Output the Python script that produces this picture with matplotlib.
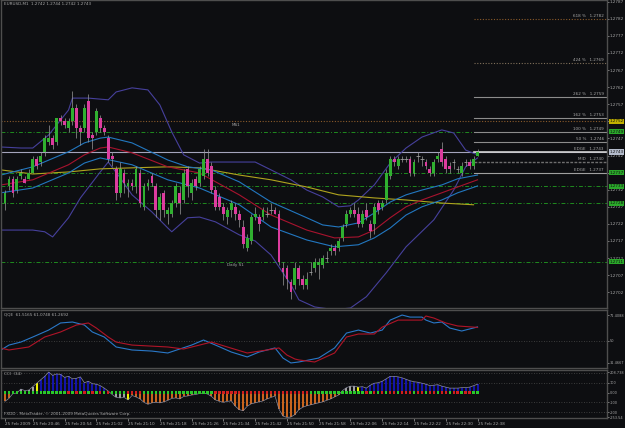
import numpy as np
import matplotlib.pyplot as plt
from matplotlib import font_manager
from matplotlib.transforms import blended_transform_factory

# EURUSD M1 candles, first bar = 25 Feb 20:39
opens = [1.2728, 1.2733, 1.2735, 1.2732, 1.2736, 1.2735, 1.2735, 1.2737, 1.2741, 1.2740,
         1.2743, 1.2746, 1.2747, 1.2746, 1.2753, 1.2752, 1.2750, 1.2752, 1.2756, 1.2750,
         1.2750, 1.2758, 1.2748, 1.2749, 1.2753, 1.2750, 1.2747, 1.2742, 1.2738, 1.2731,
         1.2737, 1.2733, 1.2734, 1.2733, 1.2737, 1.2727, 1.2733, 1.2736, 1.2733, 1.2726,
         1.2731, 1.2725, 1.2725, 1.2728, 1.2731, 1.2729, 1.2738, 1.2731, 1.2735, 1.2734,
         1.2736, 1.2741, 1.2739, 1.2732, 1.2730, 1.2727, 1.2724, 1.2726, 1.2727, 1.2725,
         1.2721, 1.2715, 1.2717, 1.2724, 1.2724, 1.2724, 1.2725, 1.2726, 1.2726, 1.2725,
         1.2709, 1.2709, 1.2705, 1.2704, 1.2709, 1.2706, 1.2704, 1.2708, 1.2709, 1.2710,
         1.2710, 1.2712, 1.2714, 1.2715, 1.2715, 1.2718, 1.2722, 1.2725, 1.2726, 1.2725,
         1.2722, 1.2726, 1.2722, 1.2722, 1.2728, 1.2727, 1.2729, 1.2736, 1.2741, 1.2739,
         1.2741, 1.2741, 1.2741, 1.2737, 1.2742, 1.2741, 1.2740, 1.2738, 1.2737, 1.2741,
         1.2744, 1.2741, 1.2739, 1.2740, 1.2738, 1.2737, 1.2740, 1.2740, 1.2739, 1.2742]
highs = [1.2732, 1.2736, 1.2736, 1.2736, 1.2738, 1.2736, 1.2738, 1.2742, 1.2742, 1.2743,
         1.2748, 1.2751, 1.2748, 1.2753, 1.2754, 1.2753, 1.2753, 1.2761, 1.2757, 1.2751,
         1.2757, 1.2760, 1.2749, 1.2756, 1.2754, 1.2751, 1.2748, 1.2743, 1.2739, 1.2740,
         1.2738, 1.2735, 1.2735, 1.2739, 1.2738, 1.2734, 1.2735, 1.2737, 1.2734, 1.2731,
         1.2732, 1.2727, 1.2729, 1.2734, 1.2733, 1.2738, 1.2739, 1.2735, 1.2736, 1.2739,
         1.2744, 1.2744, 1.2740, 1.2733, 1.2731, 1.2728, 1.2727, 1.2729, 1.2728, 1.2726,
         1.2723, 1.2719, 1.2725, 1.2727, 1.2725, 1.2727, 1.2727, 1.2728, 1.2727, 1.2726,
         1.2711, 1.2710, 1.2706, 1.2711, 1.2710, 1.2707, 1.2708, 1.2711, 1.2712, 1.2712,
         1.2713, 1.2714, 1.2716, 1.2716, 1.2718, 1.2722, 1.2726, 1.2727, 1.2728, 1.2727,
         1.2726, 1.2728, 1.2723, 1.2728, 1.2729, 1.2729, 1.2738, 1.2742, 1.2742, 1.2742,
         1.2742, 1.2742, 1.2742, 1.2741, 1.2743, 1.2742, 1.2741, 1.2739, 1.2741, 1.2743,
         1.2746, 1.2742, 1.2740, 1.2741, 1.2739, 1.2740, 1.2741, 1.2741, 1.2742, 1.2744]
lows = [1.2726, 1.2732, 1.2730, 1.2731, 1.2735, 1.2734, 1.2735, 1.2737, 1.2738, 1.2739,
        1.2742, 1.2745, 1.2744, 1.2745, 1.2751, 1.2750, 1.2749, 1.2751, 1.2747, 1.2745,
        1.2749, 1.2746, 1.2744, 1.2748, 1.2749, 1.2748, 1.2740, 1.2739, 1.2729, 1.2730,
        1.2731, 1.2730, 1.2732, 1.2731, 1.2727, 1.2726, 1.2732, 1.2733, 1.2724, 1.2723,
        1.2724, 1.2722, 1.2724, 1.2727, 1.2725, 1.2728, 1.2730, 1.2729, 1.2732, 1.2733,
        1.2735, 1.2736, 1.2731, 1.2726, 1.2726, 1.2723, 1.2722, 1.2724, 1.2723, 1.2721,
        1.2715, 1.2714, 1.2716, 1.2723, 1.2720, 1.2723, 1.2724, 1.2725, 1.2725, 1.2710,
        1.2704, 1.2703, 1.2700, 1.2703, 1.2704, 1.2703, 1.2703, 1.2707, 1.2708, 1.2706,
        1.2709, 1.2711, 1.2713, 1.2713, 1.2714, 1.2717, 1.2721, 1.2724, 1.2724, 1.2721,
        1.2721, 1.2723, 1.2718, 1.2719, 1.2725, 1.2726, 1.2728, 1.2735, 1.2739, 1.2738,
        1.2740, 1.2740, 1.2736, 1.2736, 1.2740, 1.2739, 1.2738, 1.2736, 1.2736, 1.2740,
        1.2739, 1.2737, 1.2737, 1.2738, 1.2737, 1.2736, 1.2739, 1.2738, 1.2738, 1.2742]
closes = [1.2731, 1.2735, 1.2731, 1.2735, 1.2737, 1.2734, 1.2737, 1.2741, 1.2739, 1.2742,
          1.2747, 1.2747, 1.2745, 1.2753, 1.2752, 1.2751, 1.2752, 1.2756, 1.2750, 1.2749,
          1.2756, 1.2747, 1.2747, 1.2755, 1.2750, 1.2749, 1.2741, 1.2741, 1.2731, 1.2738,
          1.2734, 1.2734, 1.2733, 1.2738, 1.2728, 1.2733, 1.2734, 1.2734, 1.2726, 1.2730,
          1.2726, 1.2726, 1.2728, 1.2733, 1.2728, 1.2737, 1.2733, 1.2734, 1.2733, 1.2738,
          1.2741, 1.2737, 1.2732, 1.2727, 1.2727, 1.2725, 1.2726, 1.2728, 1.2725, 1.2723,
          1.2716, 1.2718, 1.2724, 1.2725, 1.2722, 1.2726, 1.2725, 1.2726, 1.2725, 1.2711,
          1.2708, 1.2706, 1.2702, 1.2709, 1.2706, 1.2704, 1.2706, 1.2708, 1.2711, 1.2711,
          1.2712, 1.2712, 1.2715, 1.2714, 1.2717, 1.2721, 1.2725, 1.2726, 1.2725, 1.2722,
          1.2725, 1.2724, 1.2720, 1.2727, 1.2726, 1.2728, 1.2737, 1.2741, 1.2740, 1.2741,
          1.2741, 1.2741, 1.2737, 1.2740, 1.2742, 1.2741, 1.2739, 1.2737, 1.2740, 1.2742,
          1.2740, 1.2738, 1.2738, 1.2740, 1.2738, 1.2739, 1.2740, 1.2739, 1.2741, 1.2743]

# moving average envelope (blue / red / blue) and long MA (yellow), read at bar positions
ma_hi_bars = [-1, 7, 16, 20, 24, 26, 32, 41, 46, 52, 59, 67, 76, 80, 84, 89, 93, 97, 101, 105, 110, 114, 119]
ma_hi = [1.27363, 1.27387, 1.27431, 1.27457, 1.27471, 1.27474, 1.27457, 1.27407, 1.27387, 1.27378,
         1.27343, 1.27284, 1.27238, 1.27217, 1.27211, 1.27223, 1.27252, 1.27284, 1.27305, 1.27319,
         1.27334, 1.27352, 1.27363]
ma_mid_bars = [-1, 7, 16, 20, 24, 26, 32, 41, 49, 59, 67, 76, 83, 89, 93, 97, 101, 105, 110, 114, 119]
ma_mid = [1.27334, 1.27349, 1.27393, 1.27422, 1.27442, 1.27445, 1.27428, 1.27387, 1.27369, 1.27305,
          1.27246, 1.27202, 1.27179, 1.27182, 1.27202, 1.27238, 1.27270, 1.27290, 1.27311, 1.27328,
          1.27349]
ma_lo_bars = [-1, 7, 16, 20, 24, 32, 41, 49, 59, 67, 76, 83, 89, 93, 97, 101, 105, 110, 114, 119]
ma_lo = [1.27311, 1.27325, 1.27369, 1.27398, 1.27413, 1.27393, 1.27349, 1.27325, 1.27276, 1.27211,
         1.27173, 1.27153, 1.27159, 1.27179, 1.27208, 1.27246, 1.27270, 1.27290, 1.27311, 1.27331]
ma_long_bars = [-1, 7, 16, 24, 32, 41, 49, 59, 67, 76, 84, 93, 101, 110, 118]
ma_long = [1.27378, 1.27366, 1.27372, 1.27381, 1.27384, 1.27387, 1.27384, 1.27363, 1.27349, 1.27328,
           1.27305, 1.27296, 1.27290, 1.27281, 1.27276]

# Bollinger bands
bb_up_bars = [-1, 4, 7, 11, 16, 17, 21, 26, 28, 32, 36, 39, 42, 45, 49, 52, 59, 63, 67, 72, 76, 80,
              84, 87, 89, 93, 97, 101, 105, 110, 113, 116, 119]
bb_up = [1.27445, 1.27442, 1.27442, 1.27480, 1.27553, 1.27588, 1.27588, 1.27583, 1.27606, 1.27618,
         1.27612, 1.27568, 1.27489, 1.27422, 1.27398, 1.27401, 1.27401, 1.27401, 1.27378, 1.27349,
         1.27319, 1.27299, 1.27270, 1.27273, 1.27290, 1.27334, 1.27398, 1.27442, 1.27474, 1.27495,
         1.27486, 1.27436, 1.27422]
bb_dn_bars = [-1, 7, 10, 12, 16, 19, 24, 26, 29, 32, 37, 41, 42, 46, 49, 53, 59, 63, 67, 72, 74, 78,
              83, 87, 91, 96, 101, 108, 113, 116, 119]
bb_dn = [1.27202, 1.27202, 1.27197, 1.27182, 1.27238, 1.27296, 1.27372, 1.27401, 1.27355, 1.27305,
         1.27255, 1.27208, 1.27197, 1.27238, 1.27240, 1.27226, 1.27188, 1.27170, 1.27129, 1.27042,
         1.26998, 1.26977, 1.26969, 1.26974, 1.27007, 1.27077, 1.27153, 1.27232, 1.27319, 1.27387,
         1.27413]

# horizontal levels
pivot_levels = [1.2749, 1.2737, 1.2733, 1.2728, 1.2711]
ms1 = 1.2752
bid = 1.2743
fib_names = ["618 %", "424 %", "262 %", "162 %", "100 %", "50 %", "EDGE", "MID", "EDGE"]
fib_prices = [1.2782, 1.2769, 1.2759, 1.2753, 1.2749, 1.2746, 1.2743, 1.2740, 1.2737]

# QQE
qqe_fast_bars = [-1, 1, 4, 7, 11, 14, 17, 20, 22, 25, 28, 32, 37, 41, 44, 47, 50, 53, 57, 61, 64,
                 68, 70, 72, 74, 79, 83, 86, 89, 92, 95, 97, 100, 102, 105, 106, 108, 110, 112,
                 115, 117, 119]
qqe_fast = [42.3, 46.4, 48.9, 53.1, 58.9, 64.8, 65.6, 63.1, 57.3, 53.1, 44.8, 42.3, 41.4, 39.8, 43.1,
            46.4, 50.6, 46.4, 40.6, 36.5, 40.6, 44.0, 35.6, 31.5, 32.3, 35.6, 44.0, 56.4, 58.9, 56.4,
            58.9, 67.2, 71.4, 69.7, 69.7, 67.2, 64.8, 65.6, 60.6, 58.1, 59.8, 61.5]
qqe_slow_bars = [-1, 1, 6, 10, 14, 18, 21, 23, 26, 28, 32, 41, 45, 49, 52, 56, 61, 66, 69, 71, 73,
                 74, 78, 83, 86, 89, 93, 95, 99, 102, 105, 106, 108, 111, 114, 119]
qqe_slow = [43.9, 42.3, 44.8, 53.1, 57.3, 63.1, 64.8, 60.6, 53.1, 48.9, 46.4, 44.8, 43.1, 46.4, 48.9,
            44.8, 39.8, 42.3, 44.0, 38.1, 34.8, 34.0, 32.3, 39.8, 53.1, 55.6, 55.6, 61.4, 67.2, 67.2,
            67.2, 70.6, 68.9, 64.8, 62.3, 61.1]

# CCI (34)
cci = [-90, -60, -10, -5, 35, 20, 25, 60, 95, 130,
       165, 208.7, 175, 190, 185, 155, 165, 140, 145, 160,
       100, 115, 90, 85, 70, 45, 15, -20, -50, -55,
       -50, -75, -30, -45, -65, -100, -120, -105, -100, -105,
       -95, -80, -60, -55, -65, -40, -35, -25, -20, -10,
       -5, -15, -40, -75, -90, -100, -90, -85, -140, -175,
       -185, -140, -115, -105, -95, -85, -65, -50, -35, -170,
       -240, -253.5, -250, -225, -175, -150, -135, -125, -115, -105,
       -95, -80, -65, -45, -25, 20, 50, 65, 65, 55,
       60, 45, 75, 95, 100, 115, 140, 165, 165, 160,
       150, 135, 120, 110, 105, 95, 85, 70, 75, 80,
       65, 55, 45, 45, 45, 50, 50, 55, 70, 85]
trend_up = ([1] * 16 + [0, 1, 0, 1, 0, 1, 0, 1, 0, 1, 0] + [1] * 4 + [0] * 4 + [1] * 18 + [0] * 24
            + [1] * 13 + [1, 0, 1, 0, 1, 0, 1, 0, 0, 1, 0, 0, 0, 1, 0, 0, 1, 0, 0, 1,
                          0, 0, 1, 0, 0, 1, 0, 0, 1, 1])

time_bars = [0, 7, 15, 23, 31, 39, 47, 55, 63, 71, 79, 87, 95, 103, 111, 119]
time_labels = ["25 Feb 2009", "25 Feb 20:46", "25 Feb 20:54", "25 Feb 21:02", "25 Feb 21:10",
               "25 Feb 21:18", "25 Feb 21:26", "25 Feb 21:34", "25 Feb 21:42", "25 Feb 21:50",
               "25 Feb 21:58", "25 Feb 22:06", "25 Feb 22:14", "25 Feb 22:22", "25 Feb 22:30",
               "25 Feb 22:38"]

# narrow font if there is one, like the terminal's bitmap font
names = {f.name for f in font_manager.fontManager.ttflist}
if "Liberation Sans Narrow" in names:
    plt.rcParams['font.family'] = ["Liberation Sans Narrow", "DejaVu Sans"]
    fs = 3.9
else:
    plt.rcParams['font.family'] = ["DejaVu Sans"]
    fs = 3.0

bg = "#0d0e11"
frame = "#4e4e4e"
txt = "#a8a8a8"

W, H = 625, 428


def rect(x0, y0, x1, y1):
    return [x0 / W, 1 - y1 / H, (x1 - x0) / W, (y1 - y0) / H]


fig = plt.figure(figsize=(6.25, 4.28), dpi=100, facecolor=bg)
ax = fig.add_axes(rect(1, 0, 607, 308))
axq = fig.add_axes(rect(1, 310, 607, 368))
axc = fig.add_axes(rect(1, 370, 607, 418))

for a in (ax, axq, axc):
    a.set_facecolor(bg)
    a.set_xlim(-1.0, 151.6)
    for s in a.spines.values():
        s.set_color(frame)
        s.set_linewidth(1.0)
    a.yaxis.tick_right()
    a.tick_params(axis='y', labelsize=fs, colors=txt, length=1.5, width=0.5, pad=0.6)
    a.tick_params(axis='x', labelsize=fs, colors=txt, length=2, width=0.5, pad=1.2)
# the 7-character scale labels of the sub-windows need a touch less room
axq.tick_params(axis='y', labelsize=fs * 0.85, pad=0.4)
axc.tick_params(axis='y', labelsize=fs * 0.85, pad=0.4)
ax.set_xticks([])
axq.set_xticks([])

# ---------------- main price chart ----------------
ax.set_ylim(1.26974, 1.27875)
ticks = np.round(np.arange(1.2702, 1.27875, 0.0005), 4)
ax.set_yticks(ticks)
ax.set_yticklabels([f"{t:.4f}" for t in ticks])

x = np.arange(len(opens))
o, h, l, c = map(np.array, (opens, highs, lows, closes))
up = c > o + 1e-7
dn = c < o - 1e-7
eq = ~(up | dn)

# levels
ax.axhline(ms1, color="#8a5a2a", lw=0.8, ls=(0, (1, 1.5)), zorder=1)
for lv in pivot_levels:
    ax.axhline(lv, color="#1f8a1f", lw=0.7, ls=(0, (4, 2, 1, 2)), zorder=1)
ax.axhline(bid, color="#a4a4bc", lw=0.8, zorder=1)

ax.plot(bb_up_bars, bb_up, color="#46409c", lw=0.8)
ax.plot(bb_dn_bars, bb_dn, color="#46409c", lw=0.8)
ax.plot(ma_long_bars, ma_long, color="#b0a41e", lw=0.8)
ax.plot(ma_hi_bars, ma_hi, color="#2277c0", lw=0.8)
ax.plot(ma_mid_bars, ma_mid, color="#a8132e", lw=0.8)
ax.plot(ma_lo_bars, ma_lo, color="#2277c0", lw=0.8)

ax.vlines(x, l, h, color="#9a9a9a", lw=0.5, zorder=3)
ax.bar(x[up], c[up] - o[up], bottom=o[up], width=0.7, color="#30b030", lw=0, zorder=4)
ax.bar(x[dn], o[dn] - c[dn], bottom=c[dn], width=0.7, color="#dc3c9e", lw=0, zorder=4)
ax.hlines(o[eq], x[eq] - 0.4, x[eq] + 0.4, color="#a0a0a0", lw=0.6, zorder=4)

# fibo / channel levels on the right
fib_style = [("#8a5a2a", (0, (1, 1.5)), 0.8), ("#80705a", (0, (1, 1.5)), 0.8),
             ("#8c8c8c", "-", 0.8), ("#8c8c8c", "-", 0.8), ("#8c8c8c", "-", 0.8),
             ("#8c8c8c", "-", 0.8), ("#d0d0d0", "-", 1.2), ("#6e6e6e", (0, (2, 1)), 1.0),
             ("#a0a0a0", "-", 0.8)]
tr = blended_transform_factory(ax.transAxes, ax.transData)
for name, p, (col, ls, lw) in zip(fib_names, fib_prices, fib_style):
    ax.plot([118, 151.6], [p, p], color=col, ls=ls, lw=lw, zorder=2)
    ax.text(0.995, p + 0.00003, f"{name}   {p:.4f}", transform=tr, ha='right', va='bottom',
            fontsize=fs, color=txt)

ax.text(57, ms1 - 0.00005, "MS1", fontsize=fs, color=txt, va='top')
ax.text(56, pivot_levels[-1] - 0.00005, "Daily S1", fontsize=fs, color=txt, va='top')
ax.text(0.005, 0.992, "EURUSD,M1  1.2742 1.2744 1.2742 1.2743", transform=ax.transAxes,
        fontsize=fs, color=txt, va='top')

# price boxes on the scale
boxes = [(ms1, "#c0b000"), (pivot_levels[0], "#2aa82a"), (bid, "#b4bccc"),
         (pivot_levels[1], "#2aa82a"), (pivot_levels[2], "#2aa82a"),
         (pivot_levels[3], "#2aa82a"), (pivot_levels[4], "#2aa82a")]
for p, col in boxes:
    ax.text(1.0 + 2.5 / 606, p, f"{p:.4f}", transform=tr, ha='left', va='center', fontsize=fs,
            color="#101010", zorder=6,
            bbox=dict(boxstyle="square,pad=0.15", fc=col, ec="none"))

# ---------------- QQE ----------------
axq.set_ylim(27.3, 75.6)
axq.set_yticks([31.4667, 50, 71.4088])
axq.set_yticklabels(["31.4667", "50", "71.4088"])
axq.axhline(50, color="#4a4a4a", lw=0.6, ls=(0, (1, 2)))
axq.plot(qqe_fast_bars, qqe_fast, color="#2a78c8", lw=0.8)
axq.plot(qqe_slow_bars, qqe_slow, color="#b01428", lw=0.8)
axq.text(0.005, 0.95, "QQE  61.5165 61.0748 61.2692", transform=axq.transAxes, fontsize=fs,
         color=txt, va='top')

# ---------------- CCI ----------------
axc.set_ylim(-260, 230)
axc.set_yticks([-253.54, -200, -100, 0, 100, 208.738])
axc.set_yticklabels(["-253.54", "-200", "-100", "0.00", "100", "208.738"])
for lv in (200, 100, -100, -200):
    axc.axhline(lv, color="#4a4a4a", lw=0.6, ls=(0, (1, 2)))

cols = []
run = 99
for i, v in enumerate(cci):
    if i > 0:
        run = 0 if np.sign(v) != np.sign(cci[i - 1]) else run + 1
    if run < 4:
        cols.append("#a0a0a0")
    elif run == 4:
        cols.append("#f0f000")
    else:
        cols.append("#1414a8" if v > 0 else "#c8641e")
axc.bar(x, cci, width=0.5, color=cols, lw=0, zorder=2)
axc.plot(x, cci, color="#8c8ca0", lw=0.5, zorder=3)
axc.scatter(x, np.zeros(len(x)), marker='s', s=3, lw=0, zorder=4,
            c=["#2ac82a" if t else "#d21e1e" for t in trend_up])
axc.text(0.005, 0.95, "CCI  (34)", transform=axc.transAxes, fontsize=fs, color=txt, va='top')
axc.text(0.005, 0.04, "FXDD - MetaTrader, \u00a9 2001-2009 MetaQuotes Software Corp.",
         transform=axc.transAxes, fontsize=fs, color=txt, va='bottom')

axc.set_xticks(time_bars)
axc.set_xticklabels(time_labels, ha='left')

fig.savefig("out.png", dpi=100, facecolor=bg)
